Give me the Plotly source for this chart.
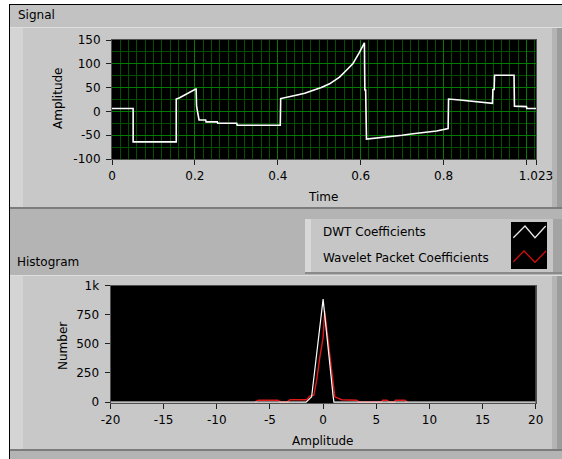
import plotly.graph_objects as go

# ---------------- data ----------------
signal_time = [0.000, 0.051, 0.051, 0.155, 0.155, 0.162, 0.202, 0.203, 0.204, 0.208, 0.210,
               0.226, 0.227, 0.254, 0.255, 0.301, 0.302, 0.406, 0.407, 0.444, 0.465, 0.484,
               0.505, 0.525, 0.549, 0.565, 0.581, 0.597, 0.609, 0.610, 0.612, 0.614, 0.662,
               0.700, 0.726, 0.760, 0.783, 0.811, 0.812, 0.839, 0.888, 0.918, 0.919, 0.922,
               0.923, 0.970, 0.971, 1.000, 1.001, 1.023]
signal_amp = [6, 6, -64, -64, 26, 28, 47, 47, 11, -16, -18,
              -18, -22, -22, -25, -25, -29, -29, 27, 34, 38, 44,
              50, 58, 72, 86, 100, 124, 144, 45, 45, -58, -54,
              -50, -47, -44, -41, -36, 26, 24, 19, 17, 46, 46,
              76, 76, 11, 10, 6, 6]

dwt_amp = [-20, -1.6, -1.08, 0.0, 0.95, 1.02, 20]
dwt_count = [0, 0, 45, 883, 45, 0, 0]

wp_amp = [-6.4, -6.1, -4.25, -4.0, -3.4, -3.1, -1.55, -1.25, -0.87, -0.6, -0.3, 0.0,
          0.15, 0.55, 1.1, 1.75, 3.15, 3.4, 5.5, 5.6, 6.0, 6.2, 6.7, 6.8, 7.7, 7.9]
wp_count = [0, 16, 16, 0, 0, 20, 20, 52, 60, 190, 390, 550,
            780, 455, 45, 20, 16, 0, 0, 16, 16, 0, 0, 16, 16, 0]

time_tickvals = [0, 0.2, 0.4, 0.6, 0.8, 1.0, 1.023]
time_ticktext = ["0", "0.2", "0.4", "0.6", "0.8", "", "1.023"]
sig_tickvals = [-100, -50, 0, 50, 100, 150]
sig_ticktext = ["-100", "-50", "0", "50", "100", "150"]
count_tickvals = [0, 250, 500, 750, 1000]
count_ticktext = ["0", "250", "500", "750", "1k"]
amp_tickvals = [-20, -15, -10, -5, 0, 5, 10, 15, 20]
amp_ticktext = ["-20", "-15", "-10", "-5", "0", "5", "10", "15", "20"]

series_names = ["DWT Coefficients", "Wavelet Packet Coefficients"]

# ---------------- layout helpers ----------------
W, H = 562, 459
def fx(p):
    return p / W
def fy(p):
    return 1 - p / H

FONT = "DejaVu Sans"
shapes = []
def rect(x0, y0, x1, y1, color, layer="below"):
    shapes.append(dict(type="rect", xref="paper", yref="paper",
                       x0=fx(x0), x1=fx(x1), y0=fy(y1), y1=fy(y0),
                       fillcolor=color, line=dict(width=0), layer=layer))

# outer white margin and black border
rect(0, 0, 562, 4, "white")
rect(0, 0, 9, 459, "white")
rect(9, 4, 562, 5, "black")
rect(9, 4, 10, 459, "black")
# header of Signal
rect(10, 5, 562, 27, "#c2c2c2")
# top graph frame
rect(10, 27, 562, 209, "#c8c8c8")
rect(10, 27, 562, 28, "#dedede")
rect(10, 28, 23, 208, "#d4d4d4")
rect(552, 28, 557, 208, "#b4b4b4")
rect(557, 28, 562, 208, "#9c9c9c")
rect(10, 207, 562, 209, "#7c7c7c")
# legend box
rect(305, 219, 553, 273, "#c6c6c6")
rect(305, 219, 311, 273, "#d8d8d8")
rect(553, 219, 562, 273, "#a4a4a4")
rect(305, 272, 562, 274, "#8a8a8a")
# bottom graph frame
rect(10, 275, 562, 451, "#c8c8c8")
rect(10, 275, 562, 276, "#dedede")
rect(10, 276, 23, 450, "#d4d4d4")
rect(552, 276, 557, 450, "#b4b4b4")
rect(557, 276, 562, 450, "#9c9c9c")
rect(10, 449, 562, 451, "#7c7c7c")
# black plot areas
rect(112, 39, 536, 159, "black")
rect(110.5, 285, 535.7, 403, "black")
# legend swatch
rect(511, 222, 547, 269, "black", layer="above")
def path(pts, color):
    d = "M " + " L ".join(f"{fx(x):.5f},{fy(y):.5f}" for x, y in pts)
    shapes.append(dict(type="path", xref="paper", yref="paper", path=d,
                       line=dict(color=color, width=1.3), layer="above"))
path([(513.3, 237.7), (525, 226), (535, 237.7), (545.7, 226)], "#e8e8e8")
path([(513.3, 261.7), (524, 251), (535, 262.3), (546, 251)], "#d01010")

# ---------------- figure ----------------
fig = go.Figure()
fig.add_trace(go.Scatter(x=signal_time, y=signal_amp, mode="lines",
                         line=dict(color="white", width=1.6), xaxis="x", yaxis="y",
                         showlegend=False))
fig.add_trace(go.Scatter(x=wp_amp, y=wp_count, mode="lines", name=series_names[1],
                         line=dict(color="#e01818", width=1.4), xaxis="x2", yaxis="y2",
                         showlegend=False))
fig.add_trace(go.Scatter(x=dwt_amp, y=dwt_count, mode="lines", name=series_names[0],
                         line=dict(color="white", width=1.2), xaxis="x2", yaxis="y2",
                         showlegend=False))

tickfont = dict(family=FONT, size=12, color="black")
common = dict(ticks="outside", ticklen=5, tickcolor="#202020", tickwidth=1,
              tickfont=tickfont, zeroline=False, showline=True, linecolor="#505050",
              linewidth=1, mirror=True, automargin=False, fixedrange=True)

MAJ = "rgb(0,125,0)"
MIN = "rgb(0,80,0)"
fig.update_layout(
    width=W, height=H, autosize=False,
    margin=dict(l=0, r=0, t=0, b=0, pad=0),
    paper_bgcolor="#b4b4b4", plot_bgcolor="black",
    showlegend=False,
    xaxis=dict(domain=[fx(112), fx(536)], range=[0, 1.023], tickmode="array",
               tickvals=time_tickvals, ticktext=time_ticktext,
               showgrid=True, gridcolor=MAJ, gridwidth=1, ticklabelstandoff=1,
               minor=dict(tick0=0, dtick=0.02, showgrid=True, gridcolor=MIN,
                          gridwidth=1, ticks=""),
               anchor="y", **common),
    yaxis=dict(domain=[fy(159), fy(40)], range=[-100, 150], tickmode="array",
               tickvals=sig_tickvals, ticktext=sig_ticktext,
               showgrid=True, gridcolor=MAJ, gridwidth=1, ticklabelstandoff=3,
               minor=dict(tick0=0, dtick=25, showgrid=True, gridcolor=MIN,
                          gridwidth=1, ticks=""),
               anchor="x", **common),
    xaxis2=dict(domain=[fx(110.5), fx(535.7)], range=[-20, 20], tickmode="array",
                tickvals=amp_tickvals, ticktext=amp_ticktext, showgrid=False,
                ticklabelstandoff=1, anchor="y2", **common),
    yaxis2=dict(domain=[fy(403), fy(285.5)], range=[-8, 1000], tickmode="array",
                tickvals=count_tickvals, ticktext=count_ticktext, showgrid=False,
                ticklabelstandoff=3, anchor="x2", **common),
    shapes=shapes,
)

def label(text, x, y, xanchor="center", angle=0):
    fig.add_annotation(text=text, x=fx(x), y=fy(y), xref="paper", yref="paper",
                       xanchor=xanchor, yanchor="middle", showarrow=False,
                       textangle=angle, font=dict(family=FONT, size=12, color="black"))

label("Signal", 16, 15, "left")
label("Amplitude", 58, 98, angle=-90)
label("Time", 323, 197)
label("Histogram", 15, 262, "left")
label("Number", 63, 346, angle=-90)
label("Amplitude", 323, 441)
label(series_names[0], 321, 232, "left")
label(series_names[1], 321, 258, "left")

fig.write_html("out.html")
